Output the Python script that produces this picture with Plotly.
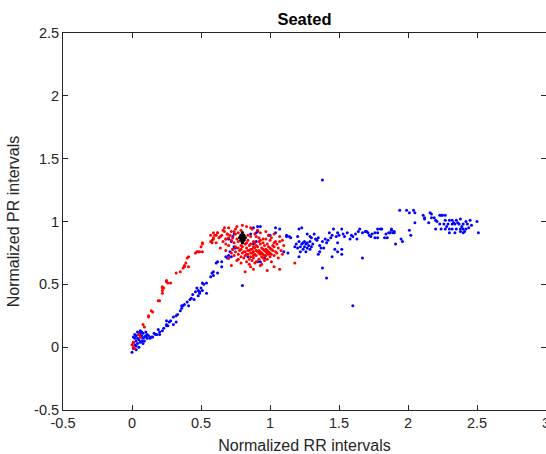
import plotly.graph_objects as go

# Blue series (Normalized RR, Normalized PR)
blue_x = [0.00, 0.01, 0.02, 0.01, 0.03, 0.02, 0.04, 0.05, 0.03, 0.06, 0.05, 0.07, 0.08, 0.07, 0.09, 0.04, 0.06, 0.08, 0.10, 0.02,
          0.05, 0.09, 0.11, 0.12, 0.13, 0.03, 0.06, 0.04, 0.07, 0.10, 0.01, 0.08, 0.03, 0.06, 0.11,
          0.14, 0.15, 0.17, 0.18, 0.20, 0.20, 0.22, 0.16, 0.19, 0.23, 0.25, 0.26, 0.25, 0.27, 0.28, 0.25, 0.30, 0.32, 0.30, 0.32,
          0.33, 0.35, 0.36, 0.36, 0.37, 0.38, 0.40, 0.41, 0.42, 0.43, 0.45, 0.44, 0.46, 0.48, 0.49, 0.47, 0.48, 0.50, 0.51, 0.49,
          0.54, 0.51, 0.52, 0.54, 0.57, 0.58, 0.59, 0.59, 0.62, 0.61, 0.62, 0.65, 0.69, 0.70, 0.71, 0.68, 0.70, 0.72, 0.73, 0.74,
          0.75, 0.70, 0.72, 0.73, 0.74, 0.65, 0.80,
          0.86, 0.88, 0.91, 0.93, 0.90, 0.91, 0.99, 1.00, 1.04, 1.04, 1.12, 1.12, 0.90, 0.88, 1.10, 0.91, 0.93, 0.84, 1.07, 0.96,
          1.13, 1.14, 1.15, 1.20, 1.21, 1.23,
          1.19, 1.20, 1.21, 1.22, 1.23, 1.24, 1.24, 1.25, 1.25, 1.26, 1.27, 1.27, 1.28, 1.29, 1.30, 1.31, 1.22, 1.26, 1.29, 1.18, 1.21,
          1.27, 1.29, 1.30, 1.32, 1.33, 1.34, 1.35, 1.36, 1.38, 1.36, 1.37, 1.39, 1.35, 1.42, 1.43, 1.44, 1.45, 1.46, 1.48, 1.49,
          1.49, 1.50, 1.52, 1.53, 1.54, 1.56, 1.47, 1.49, 1.52, 1.52, 1.45, 1.41, 1.40,
          1.59, 1.60, 1.62, 1.63, 1.65, 1.67, 1.69, 1.70, 1.71, 1.72, 1.73, 1.74, 1.76, 1.78, 1.76, 1.78, 1.78, 1.80, 1.81, 1.83,
          1.85, 1.86, 1.87, 1.88, 1.90, 1.88, 1.89, 1.90, 1.67, 1.38, 1.41, 1.60, 1.38, 1.58, 1.64, 1.91, 1.95, 1.96, 1.84,
          1.94, 1.99, 2.01, 2.04, 2.05, 2.05, 2.01, 2.02, 2.11, 2.12, 2.12, 2.15, 2.16, 2.17, 2.17, 2.19, 2.20, 2.21, 2.23, 2.24,
          2.25, 2.27, 2.23, 2.26, 2.29, 2.32, 2.34, 2.37, 2.40, 2.43, 2.27, 2.30, 2.32, 2.35, 2.33, 2.36, 2.20, 2.24, 2.27, 2.30,
          2.32, 2.35, 2.38, 2.40, 2.42, 2.30, 2.34, 2.38, 2.40, 2.41, 2.50, 2.51, 2.28, 2.39, 2.44, 2.46, 2.42, 2.38, 2.45]
blue_y = [-0.04, -0.01, 0.02, 0.04, 0.05, 0.07, 0.03, 0.06, 0.09, 0.08, 0.10, 0.05, 0.07, 0.09, 0.08, 0.12, 0.11, 0.11, 0.09, 0.10,
          0.00, 0.05, 0.07, 0.09, 0.07, 0.01, 0.04, 0.07, 0.12, 0.12, 0.08, 0.03, -0.02, 0.13, 0.10,
          0.08, 0.08, 0.10, 0.10, 0.10, 0.12, 0.13, 0.11, 0.14, 0.15, 0.17, 0.17, 0.18, 0.20, 0.21, 0.21, 0.18, 0.20, 0.24, 0.25,
          0.26, 0.29, 0.31, 0.33, 0.33, 0.34, 0.36, 0.33, 0.38, 0.39, 0.38, 0.42, 0.44, 0.41, 0.44, 0.47, 0.45, 0.47, 0.45, 0.43,
          0.43, 0.51, 0.50, 0.51, 0.56, 0.59, 0.57, 0.60, 0.59, 0.67, 0.68, 0.64, 0.71, 0.71, 0.76, 0.72, 0.73, 0.72, 0.78, 0.80,
          0.79, 0.86, 0.84, 0.88, 0.90, 0.68, 0.49,
          0.90, 0.95, 0.96, 0.96, 0.91, 0.92, 0.89, 0.89, 0.91, 0.95, 0.89, 0.88, 0.84, 0.82, 0.76, 0.68, 0.68, 0.72, 0.94, 0.71,
          0.75, 0.88, 0.87, 0.88, 0.94, 0.95,
          0.82, 0.79, 0.84, 0.80, 0.82, 0.83, 0.78, 0.80, 0.84, 0.82, 0.79, 0.83, 0.81, 0.84, 0.80, 0.82, 0.76, 0.76, 0.78, 0.80, 0.72,
          0.90, 0.88, 0.87, 0.90, 0.86, 0.85, 0.87, 0.81, 0.84, 0.76, 0.79, 0.79, 0.74, 0.85, 0.91, 0.87, 0.89, 0.94, 0.88, 0.83,
          0.91, 0.89, 0.94, 0.90, 0.88, 0.91, 0.78, 0.76, 0.78, 0.74, 0.72, 0.83, 0.86,
          0.89, 0.88, 0.90, 0.86, 0.94, 0.91, 0.92, 0.92, 0.91, 0.89, 0.88, 0.90, 0.91, 0.91, 0.87, 0.87, 0.94, 0.94, 0.94, 0.87,
          0.87, 0.91, 0.91, 0.94, 0.91, 0.93, 0.91, 0.92, 0.71, 0.63, 0.55, 0.33, 1.33, 0.86, 0.92, 0.82, 0.86, 0.84, 0.90,
          1.09, 1.09, 1.07, 1.09, 1.07, 0.99, 0.93, 0.89, 1.05, 1.03, 1.02, 0.99, 1.07, 1.06, 1.03, 1.03, 1.01, 1.00, 1.05, 1.05,
          1.05, 1.05, 0.98, 0.98, 0.98, 0.98, 0.98, 0.98, 0.98, 0.98, 1.01, 1.01, 1.01, 1.01, 0.99, 0.99, 0.94, 0.94, 0.94, 0.94,
          0.94, 0.94, 0.94, 0.94, 0.94, 0.91, 0.91, 0.92, 0.91, 0.92, 1.00, 0.91, 0.96, 0.96, 0.95, 0.97, 1.00, 1.02, 1.01]

# Red series
red_x = [0.00, 0.01, 0.01, 0.02, 0.05, 0.06, 0.08, 0.09, 0.12, 0.12, 0.14, 0.15, 0.19, 0.20, 0.22, 0.22, 0.22, 0.22, 0.23, 0.25,
         0.25, 0.26, 0.28, 0.32, 0.35, 0.37, 0.38, 0.38, 0.39, 0.40, 0.41, 0.41, 0.46, 0.47, 0.48, 0.49, 0.51, 0.50, 0.51, 0.51,
         0.57, 0.57, 0.58, 0.59, 0.59, 0.59, 0.61, 0.65, 0.67, 0.67, 0.69, 0.70, 0.68, 0.62,
         0.80, 0.76,
         0.70, 0.75, 0.83, 0.86,
         0.66, 0.72, 0.79, 0.87, 0.91,
         0.62, 0.69, 0.74, 0.77, 0.89, 0.93, 0.97,
         0.60, 0.64, 0.71, 0.75, 0.84, 0.90, 0.99, 1.03,
         0.63, 0.68, 0.73, 0.86, 0.92, 0.95, 1.01, 1.07,
         0.58, 0.66, 0.72, 0.76, 0.84, 0.88, 0.93, 0.97, 1.00, 1.04, 1.09,
         0.61, 0.68, 0.74, 0.77, 0.83, 0.86, 0.89, 0.92, 0.95, 0.98, 1.03, 1.07,
         0.70, 0.75, 0.79, 0.82, 0.85, 0.88, 0.90, 0.93, 0.96, 0.99, 1.02, 1.05, 1.10,
         0.64, 0.73, 0.77, 0.80, 0.83, 0.86, 0.89, 0.91, 0.94, 0.97, 1.00, 1.03, 1.06,
         0.79, 0.84, 0.87, 0.92, 0.95, 0.98, 1.01, 1.08,
         0.68, 0.75, 0.78, 0.81, 0.85, 0.88, 0.90, 0.93, 0.96, 0.99, 1.02, 1.04,
         0.82, 0.86, 0.91, 0.94, 0.97, 1.00,
         0.72, 0.77, 0.80, 0.84, 0.87, 0.89, 0.92, 0.95, 0.98, 1.01, 1.05, 1.09,
         0.83, 0.88, 0.93, 0.96, 0.99,
         0.74, 0.79, 0.82, 0.86, 0.90, 0.94, 0.97, 1.00, 1.03,
         0.70, 0.77, 0.81, 0.85, 0.88, 0.92, 0.95, 0.98, 1.06,
         0.76, 0.83, 0.87, 0.90, 0.96, 1.01,
         0.79, 0.85, 0.89, 0.94, 1.18,
         0.72, 0.86, 0.93, 1.03,
         0.88, 0.98, 1.07,
         0.82]
red_y = [0.02, 0.04, 0.00, -0.01, 0.10, 0.08, 0.18, 0.16, 0.25, 0.24, 0.29, 0.28, 0.37, 0.37, 0.43, 0.45, 0.47, 0.48, 0.47, 0.53,
         0.52, 0.51, 0.51, 0.59, 0.60, 0.63, 0.64, 0.65, 0.67, 0.71, 0.72, 0.64, 0.75, 0.76, 0.76, 0.76, 0.76, 0.80, 0.82, 0.83,
         0.84, 0.89, 0.83, 0.87, 0.91, 0.86, 0.89, 0.89, 0.92, 0.95, 0.90, 0.87, 0.86, 0.91,
         0.97, 0.96,
         0.95, 0.94, 0.96, 0.95,
         0.93, 0.92, 0.93, 0.94, 0.93,
         0.91, 0.90, 0.92, 0.91, 0.90, 0.91, 0.92,
         0.89, 0.88, 0.89, 0.90, 0.89, 0.88, 0.89, 0.90,
         0.87, 0.86, 0.87, 0.88, 0.87, 0.86, 0.87, 0.88,
         0.85, 0.84, 0.85, 0.86, 0.85, 0.84, 0.85, 0.86, 0.85, 0.84, 0.85,
         0.83, 0.82, 0.83, 0.84, 0.83, 0.82, 0.83, 0.84, 0.83, 0.82, 0.83, 0.84,
         0.81, 0.80, 0.81, 0.82, 0.81, 0.80, 0.81, 0.82, 0.81, 0.80, 0.81, 0.82, 0.81,
         0.79, 0.78, 0.79, 0.80, 0.79, 0.78, 0.79, 0.80, 0.79, 0.78, 0.79, 0.80, 0.79,
         0.78, 0.77, 0.78, 0.77, 0.78, 0.77, 0.78, 0.77,
         0.77, 0.76, 0.77, 0.76, 0.77, 0.76, 0.77, 0.76, 0.77, 0.76, 0.77, 0.76,
         0.76, 0.75, 0.76, 0.75, 0.76, 0.75,
         0.75, 0.74, 0.75, 0.74, 0.75, 0.74, 0.75, 0.74, 0.75, 0.74, 0.75, 0.74,
         0.74, 0.73, 0.74, 0.73, 0.74,
         0.73, 0.72, 0.73, 0.72, 0.73, 0.72, 0.73, 0.72, 0.73,
         0.71, 0.70, 0.71, 0.70, 0.71, 0.70, 0.71, 0.70, 0.71,
         0.69, 0.68, 0.69, 0.68, 0.69, 0.68,
         0.67, 0.66, 0.67, 0.66, 0.67,
         0.65, 0.64, 0.65, 0.64,
         0.62, 0.61, 0.62,
         0.60]

# Black series
black_x = [0.80, 0.79, 0.81, 0.78, 0.80, 0.82, 0.79, 0.81, 0.80, 0.80, 0.80, 0.81, 0.79, 0.80]
black_y = [0.91, 0.89, 0.89, 0.87, 0.87, 0.87, 0.85, 0.85, 0.83, 0.86, 0.88, 0.86, 0.87, 0.89]

x_ticks = [-0.5, 0, 0.5, 1, 1.5, 2, 2.5, 3]
x_tick_labels = ["-0.5", "0", "0.5", "1", "1.5", "2", "2.5", "3"]
y_ticks = [-0.5, 0, 0.5, 1, 1.5, 2, 2.5]
y_tick_labels = ["-0.5", "0", "0.5", "1", "1.5", "2", "2.5"]

FONT = "Liberation Sans, Arial, sans-serif"

fig = go.Figure()
for xs, ys, col, sz in [(blue_x, blue_y, "#0000ff", 3), (red_x, red_y, "#ff0000", 3), (black_x, black_y, "#000000", 3.5)]:
    fig.add_trace(go.Scatter(x=xs, y=ys, mode="markers",
                             marker=dict(color=col, size=sz, line=dict(width=0)),
                             showlegend=False, cliponaxis=False))

axis_common = dict(showgrid=False, zeroline=False, showline=True, linecolor="#262626", linewidth=1,
                   mirror="ticks", ticks="inside", ticklen=5, tickcolor="#262626", automargin=False,
                   ticklabeloverflow="allow",
                   tickfont=dict(family=FONT, size=14.5, color="#262626"))

fig.update_layout(
    width=546, height=454,
    margin=dict(l=63, r=0, t=33, b=44, autoexpand=False),
    paper_bgcolor="white", plot_bgcolor="white",
    title=dict(text="<b>Seated</b>", x=0.5, xref="paper", xanchor="center",
               y=1 - 19 / 454, yref="container", yanchor="middle",
               font=dict(family=FONT, size=16.5, color="black")),
    xaxis=dict(range=[-0.5, 3], tickvals=x_ticks, ticktext=x_tick_labels,
               title=dict(text="Normalized RR intervals", standoff=10,
                          font=dict(family=FONT, size=16, color="#262626")),
               **axis_common),
    yaxis=dict(range=[-0.5, 2.5], tickvals=y_ticks, ticktext=y_tick_labels,
               title=dict(text="Normalized PR intervals", standoff=10,
                          font=dict(family=FONT, size=16, color="#262626")),
               **axis_common),
)

fig.write_html("out.html", config={"displayModeBar": False},
               post_script="document.body.style.margin='0';document.body.style.overflow='hidden';")
